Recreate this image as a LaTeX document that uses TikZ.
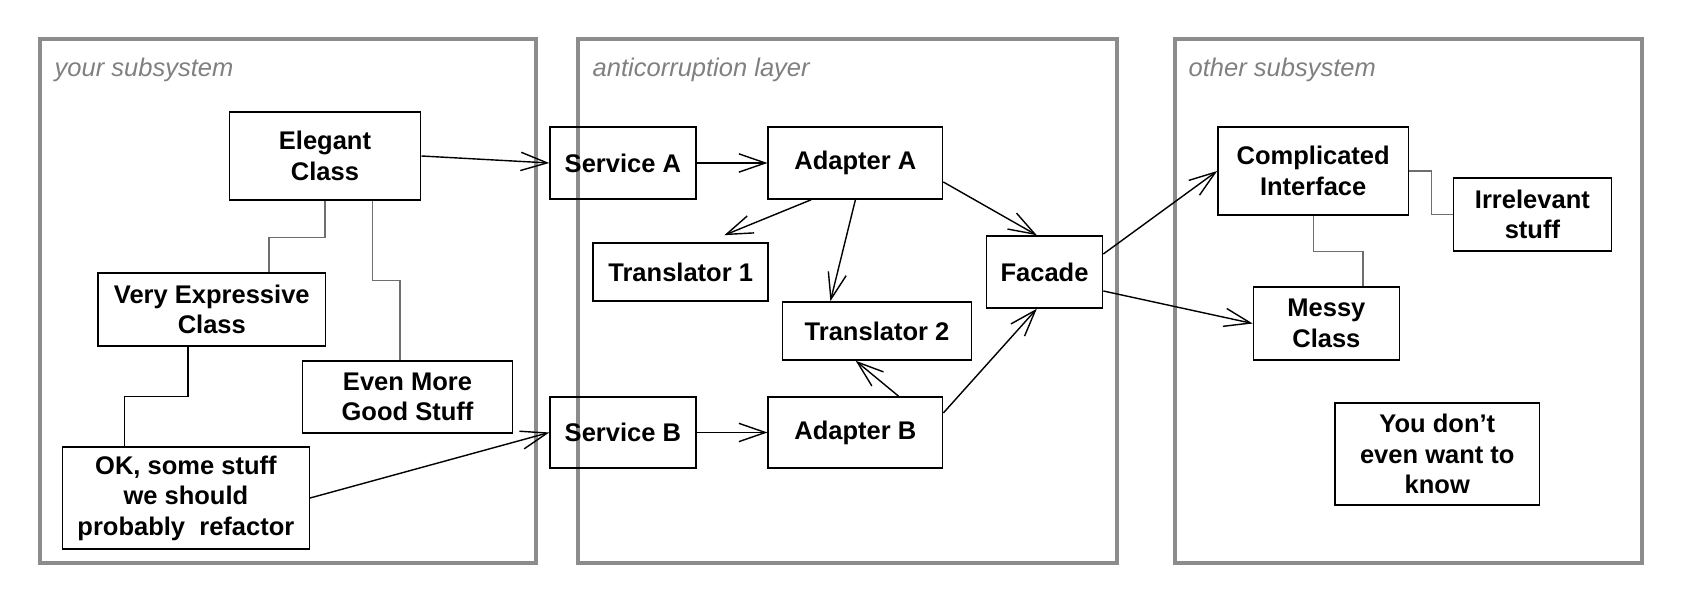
\documentclass[tikz,border=0pt]{standalone}
\usepackage{fontspec}
\setmainfont{Liberation Sans}
\usepackage{tikz}
\usetikzlibrary{arrows.meta,positioning}
\usepackage{xcolor}
\definecolor{framegray}{RGB}{140,140,140}
\definecolor{labelgray}{RGB}{128,128,128}
\definecolor{linkgray}{RGB}{110,110,110}
\tikzstyle{arrow} = [line width=0.4pt,-{Straight Barb[length=7.5pt,width=5.2pt]},color=black]
\tikzstyle{cls} = [draw,line width=0.45pt,inner sep=0pt,align=center,font=\fontsize{7.26}{8.7}\selectfont\bfseries]
\tikzstyle{frame} = [draw=framegray,line width=0.95pt]
\tikzstyle{layer} = [anchor=base west,inner sep=0pt,text=labelgray,font=\fontsize{7.26}{8.7}\selectfont\itshape]
\tikzstyle{link} = [line width=0.4pt,color=linkgray]

\begin{document}
\begin{tikzpicture}
\useasboundingbox (0,0) rectangle (16.96,6.06);
% Three areas
\draw[frame] (0.40,0.43) rectangle (5.36,5.67);
\draw[frame] (5.78,0.43) rectangle (11.17,5.67);
\draw[frame] (11.75,0.43) rectangle (16.42,5.67);
\node[layer] (lyour) at (0.54,5.29) {your subsystem};
\node[layer] (lanti) at (5.92,5.29) {anticorruption layer};
\node[layer] (lother) at (11.88,5.29) {other subsystem};

% your subsystem
\node[cls, minimum width=1.914cm, minimum height=0.88cm] (ec) at (3.25,4.50) {Elegant\\Class};
\node[cls, minimum width=2.272cm, minimum height=0.73cm] (vec) at (2.118,2.965) {Very Expressive\\Class};
\node[cls, minimum width=2.10cm, minimum height=0.72cm] (emg) at (4.075,2.09) {Even More\\Good Stuff};
\node[cls, minimum width=2.468cm, minimum height=1.02cm] (ok) at (1.859,1.08) {OK, some stuff\\we should\\probably\ \ refactor};

% anticorruption layer
\node[cls, minimum width=1.457cm, minimum height=0.72cm] (sa) at (6.229,4.43) {Service A};
\node[cls, minimum width=1.743cm, minimum height=0.72cm] (aa) at (8.554,4.43) {Adapter A};
\node[cls, minimum width=1.75cm, minimum height=0.58cm] (t1) at (6.807,3.34) {Translator 1};
\node[cls, minimum width=1.889cm, minimum height=0.58cm] (t2) at (8.77,2.75) {Translator 2};
\node[cls, minimum width=1.161cm, minimum height=0.72cm] (fac) at (10.445,3.34) {Facade};
\node[cls, minimum width=1.457cm, minimum height=0.71cm] (sb) at (6.229,1.735) {Service B};
\node[cls, minimum width=1.743cm, minimum height=0.71cm] (ab) at (8.554,1.735) {Adapter B};

% other subsystem
\node[cls, minimum width=1.905cm, minimum height=0.88cm] (ci) at (13.132,4.35) {Complicated\\Interface};
\node[cls, minimum width=1.581cm, minimum height=0.73cm] (irr) at (15.324,3.915) {Irrelevant\\stuff};
\node[cls, minimum width=1.459cm, minimum height=0.73cm] (mc) at (13.264,2.825) {Messy\\Class};
\node[cls, minimum width=2.041cm, minimum height=1.02cm] (ydk) at (14.373,1.52) {You don't\\even want to\\know};

% links between classes
\draw[link] (ec.south) -- ++(0,-0.37) -| ([xshift=0.571cm]vec.north);
\draw[link] ([xshift=0.475cm]ec.south) -- ++(0,-0.80) -| ([xshift=-0.075cm]emg.north);
\draw[link,color=black] ([xshift=-0.236cm]vec.south) -- ++(0,-0.50) -| ([xshift=-0.616cm]ok.north);
\draw[link] (ci.east) -- ++(0.223,0) |- (irr.west);
\draw[link] (ci.south) -- ++(0,-0.36) -| ([xshift=0.367cm]mc.north);

% calls
\draw[arrow] (ec.east) -- (sa.west);
\draw[arrow] (ok.east) -- (sb.west);
\draw[arrow] (sa.east) -- (aa.west);
\draw[arrow] (sb.east) -- (ab.west);
\draw[arrow] ([xshift=-0.443cm]aa.south) -- ([xshift=0.436cm,yshift=0.07cm]t1.north);
\draw[arrow] (aa.south) -- ([xshift=-0.466cm]t2.north);
\draw[arrow] ([yshift=-0.19cm]aa.east) -- ([xshift=-0.077cm]fac.north);
\draw[arrow] ([xshift=0.432cm]ab.north) -- ([xshift=-0.213cm]t2.south);
\draw[arrow] ([yshift=0.195cm]ab.east) -- ([xshift=-0.077cm]fac.south);
\draw[arrow] ([yshift=0.18cm]fac.east) -- (ci.west);
\draw[arrow] ([yshift=-0.19cm]fac.east) -- (mc.west);
\end{tikzpicture}
\end{document}
